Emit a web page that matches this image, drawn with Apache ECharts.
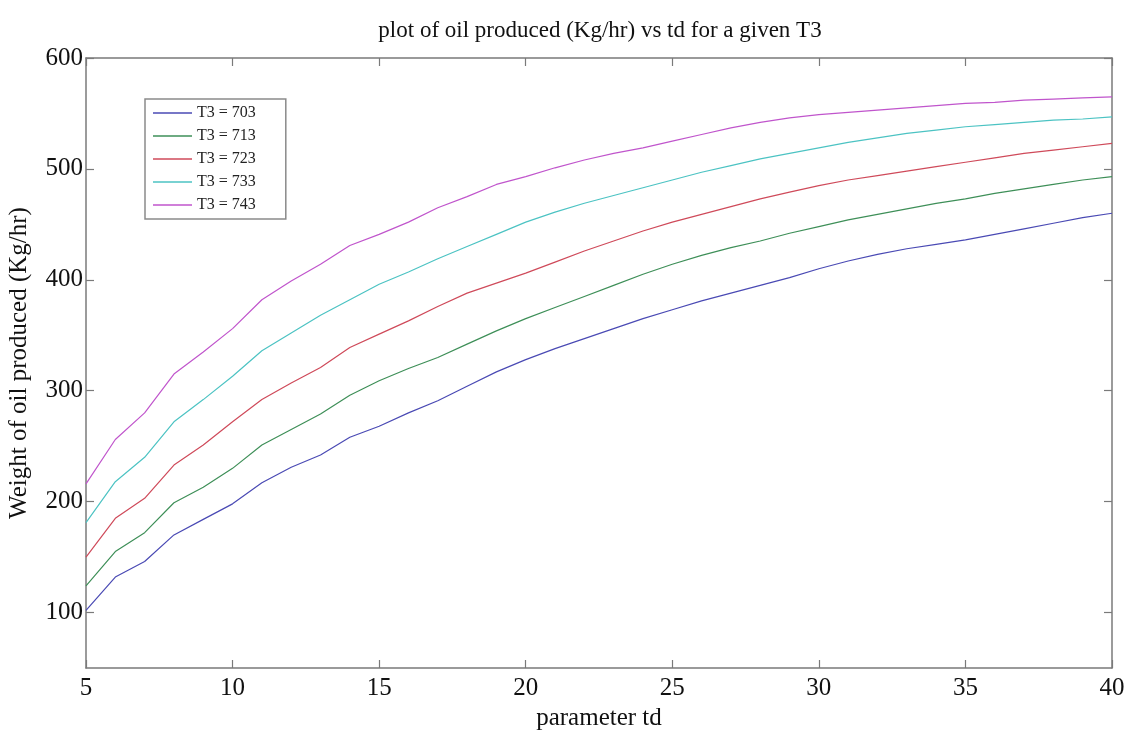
<!DOCTYPE html>
<html>
<head>
<meta charset="utf-8">
<script src="https://cdn.jsdelivr.net/npm/echarts@6/dist/echarts.min.js"></script>
<style>
  html, body { margin: 0; padding: 0; background: #fff; }
  #chart { width: 1132px; height: 735px; }
</style>
</head>
<body>
<div id="chart"></div>
<script>
// td values, 5..40 step 1
const td = [5, 6, 7, 8, 9, 10, 11, 12, 13, 14, 15, 16, 17, 18, 19, 20, 21, 22,
  23, 24, 25, 26, 27, 28, 29, 30, 31, 32, 33, 34, 35, 36, 37, 38, 39, 40];

const seriesNames = ["T3 = 703", "T3 = 713", "T3 = 723", "T3 = 733", "T3 = 743"];

const t703 = [102, 132, 146, 170, 184, 198, 217, 231, 242, 258, 268, 280, 291, 304, 317, 328, 338, 347,
  356, 365, 373, 381, 388, 395, 402, 410, 417, 423, 428, 432, 436, 441, 446, 451, 456, 460];
const t713 = [124, 155, 172, 199, 213, 230, 251, 265, 279, 296, 309, 320, 330, 342, 354, 365, 375, 385,
  395, 405, 414, 422, 429, 435, 442, 448, 454, 459, 464, 469, 473, 478, 482, 486, 490, 493];
const t723 = [150, 185, 203, 233, 251, 272, 292, 307, 321, 339, 351, 363, 376, 388, 397, 406, 416, 426,
  435, 444, 452, 459, 466, 473, 479, 485, 490, 494, 498, 502, 506, 510, 514, 517, 520, 523];
const t733 = [181, 218, 240, 272, 292, 313, 336, 352, 368, 382, 396, 407, 419, 430, 441, 452, 461, 469,
  476, 483, 490, 497, 503, 509, 514, 519, 524, 528, 532, 535, 538, 540, 542, 544, 545, 547];
const t743 = [216, 256, 280, 315, 335, 356, 382, 399, 414, 431, 441, 452, 465, 475, 486, 493, 501, 508,
  514, 519, 525, 531, 537, 542, 546, 549, 551, 553, 555, 557, 559, 560, 562, 563, 564, 565];

const xTicks = [5, 10, 15, 20, 25, 30, 35, 40];
const yTicks = [100, 200, 300, 400, 500, 600];

const colors = ["#4a4ab4", "#3e8f58", "#cf4a5a", "#4cc3c3", "#c055cc"];
const allValues = [t703, t713, t723, t733, t743];

const font = "'Liberation Serif', 'DejaVu Serif', serif";
const axisGray = "#7a7a7a";

const chart = echarts.init(document.getElementById("chart"));

function boxAxis(extra) {
  return Object.assign({
    type: "value",
    axisLine: { show: true, lineStyle: { color: axisGray, width: 1.5 } },
    axisTick: { show: true, inside: true, length: 8, lineStyle: { color: axisGray, width: 1.2 } },
    splitLine: { show: false },
  }, extra);
}

chart.setOption({
  animation: false,
  backgroundColor: "#fff",
  title: {
    text: "plot of oil produced (Kg/hr) vs td for a given T3",
    left: 595,
    textAlign: "center",
    top: 14,
    textStyle: { fontFamily: font, fontSize: 23, fontWeight: "normal", color: "#111" },
  },
  legend: {
    orient: "vertical",
    left: 145,
    top: 99,
    padding: [6, 30, 6, 8],
    icon: "rect",
    itemWidth: 39,
    itemHeight: 1.5,
    itemGap: 7,
    backgroundColor: "#fff",
    borderColor: "#8a8a8a",
    borderWidth: 1.5,
    borderRadius: 0,
    textStyle: { fontFamily: font, fontSize: 16, color: "#222", lineHeight: 16 },
    data: seriesNames,
  },
  grid: { left: 86, right: 20, top: 58, bottom: 67, outerBoundsMode: "none" },
  xAxis: [
    boxAxis({
      min: 5,
      max: 40,
      interval: 5,
      position: "bottom",
      name: "parameter td",
      nameLocation: "middle",
      nameGap: 36,
      nameTextStyle: { fontFamily: font, fontSize: 25, color: "#111" },
      axisLabel: { fontFamily: font, fontSize: 25, color: "#111", margin: 8,
        customValues: xTicks },
    }),
    boxAxis({
      min: 5,
      max: 40,
      interval: 5,
      position: "top",
      axisLabel: { show: false },
    }),
  ],
  yAxis: [
    boxAxis({
      min: 50,
      max: 600,
      position: "left",
      name: "Weight of oil produced (Kg/hr)",
      nameLocation: "middle",
      nameGap: 54,
      nameTextStyle: { fontFamily: font, fontSize: 25, color: "#111" },
      axisTick: { show: true, inside: true, length: 8, customValues: yTicks,
        lineStyle: { color: axisGray, width: 1.2 } },
      axisLabel: { fontFamily: font, fontSize: 25, color: "#111", margin: 3,
        customValues: yTicks },
    }),
    boxAxis({
      min: 50,
      max: 600,
      position: "right",
      axisTick: { show: true, inside: true, length: 8, customValues: yTicks,
        lineStyle: { color: axisGray, width: 1.2 } },
      axisLabel: { show: false },
    }),
  ],
  series: allValues.map((vals, i) => ({
    name: seriesNames[i],
    type: "line",
    symbol: "none",
    smooth: false,
    data: td.map((t, j) => [t, vals[j]]),
    lineStyle: { width: 1.2, color: colors[i] },
    itemStyle: { color: colors[i] },
  })),
});
</script>
</body>
</html>
